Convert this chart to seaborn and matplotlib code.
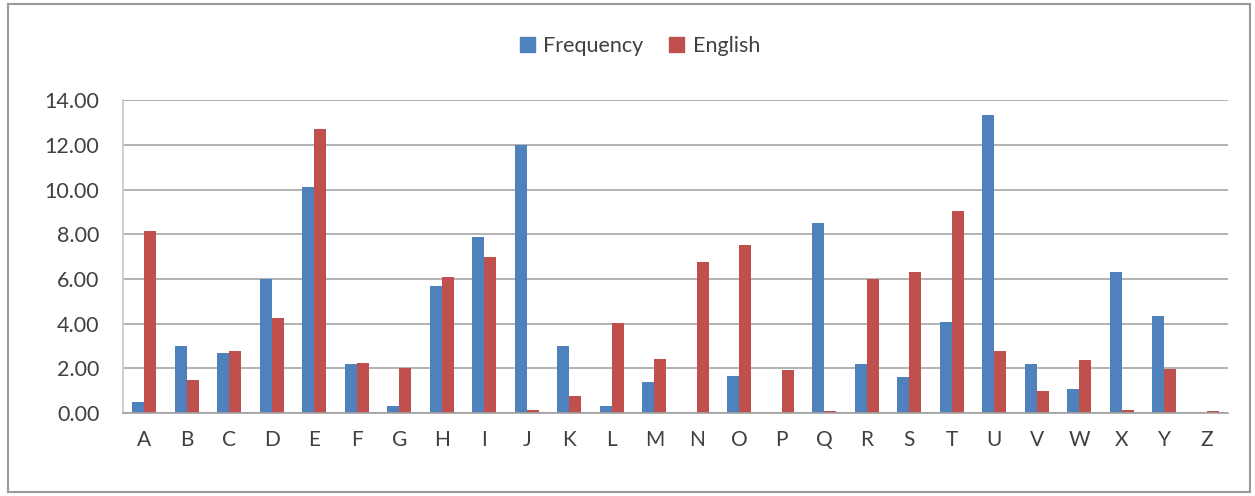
import matplotlib
matplotlib.use("Agg")
import matplotlib.pyplot as plt
import matplotlib.patches as mpatches
import numpy as np
import pandas as pd
import seaborn as sns

letters = list("ABCDEFGHIJKLMNOPQRSTUVWXYZ")
frequency = [0.50, 3.00, 2.70, 6.00, 10.10, 2.20, 0.30, 5.70, 7.90, 12.00,
             3.00, 0.30, 1.40, 0.00, 1.65, 0.00, 8.50, 2.20, 1.60, 4.10,
             13.35, 2.20, 1.10, 6.30, 4.35, 0.00]
english = [8.17, 1.49, 2.78, 4.25, 12.70, 2.23, 2.02, 6.09, 6.97, 0.15,
           0.77, 4.03, 2.41, 6.75, 7.51, 1.93, 0.10, 5.99, 6.33, 9.06,
           2.76, 0.98, 2.36, 0.15, 1.97, 0.10]
series_names = ["Frequency", "English"]
colors = ["#4F81BD", "#C0504D"]
yticks = [0, 2, 4, 6, 8, 10, 12, 14]

df = pd.DataFrame({
    "letter": letters * 2,
    "value": frequency + english,
    "series": [series_names[0]] * len(letters) + [series_names[1]] * len(letters),
})

sns.set_theme(style="white")
plt.rcParams['font.family'] = ['Lato', 'DejaVu Sans']

fig = plt.figure(figsize=(12.55, 4.96), dpi=100)
ax = fig.add_axes([0.098, 0.167, 0.9785 - 0.098, 0.798 - 0.167])

sns.barplot(data=df, x="letter", y="value", hue="series", palette=colors,
            width=0.57, saturation=1, ax=ax, legend=False, edgecolor="none")

ax.set_ylim(0, 14)
ax.set_xlim(-0.5, len(letters) - 0.5)
ax.set_yticks(yticks)
ax.set_yticklabels([f"{v:.2f}" for v in yticks], fontsize=15.5, color="#404040")
ax.set_xticks(range(len(letters)))
ax.set_xticklabels(letters, fontsize=15, color="#404040")
ax.tick_params(axis="x", which="major", length=0, pad=12)
ax.tick_params(axis="y", which="major", length=7, color="#A6A6A6", width=1.2, pad=10)
ax.set_xticks(np.arange(-0.5, len(letters), 1), minor=True)
ax.tick_params(axis="x", which="minor", length=6, color="#A0A0A0", width=1)
ax.set_xlabel("")
ax.set_ylabel("")
ax.yaxis.grid(True, color="#A6A6A6", linewidth=1.2)
ax.set_axisbelow(True)
for s in ["top", "right"]:
    ax.spines[s].set_visible(False)
ax.spines["left"].set_color("#C8C8C8")
ax.spines["bottom"].set_color("#A0A0A0")
ax.spines["bottom"].set_linewidth(1.2)

handles = [mpatches.Patch(color=c, label=n) for c, n in zip(colors, series_names)]
fig.legend(handles=handles, loc="center", bbox_to_anchor=(0.51, 0.908), ncol=2,
           frameon=False, fontsize=15.5, handlelength=0.7, handleheight=0.7,
           handletextpad=0.4, columnspacing=1.2, labelcolor="#404040")

border = mpatches.Rectangle((8 / 1255, 4 / 496), 1242 / 1255, 488 / 496,
                            transform=fig.transFigure, fill=False,
                            edgecolor="#9A9A9A", linewidth=1.5)
fig.patches.append(border)

fig.savefig("out.png", dpi=100, facecolor="white")
